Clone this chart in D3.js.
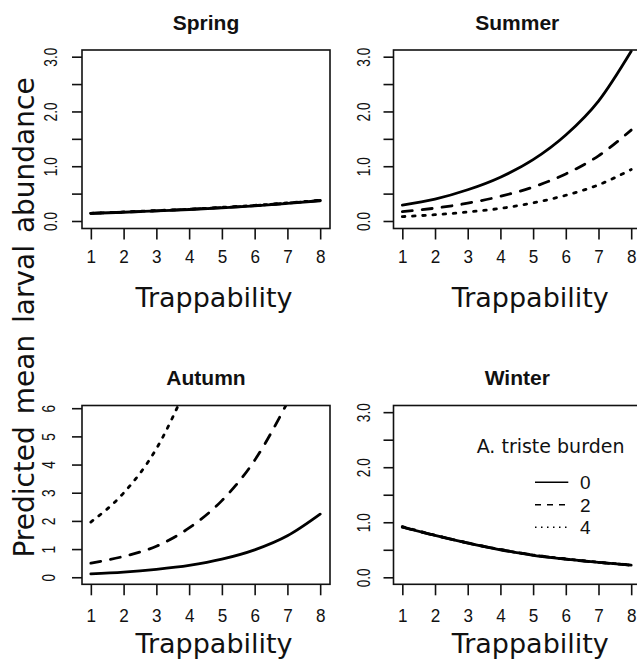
<!DOCTYPE html>
<html>
<head>
<meta charset="utf-8">
<script src="https://cdn.jsdelivr.net/npm/d3@7"></script>
<style>
  body { margin: 0; background: #fff; }
  svg { display: block; }
</style>
</head>
<body>
<div id="chart"></div>
<script>
// Trappability (x) and A. triste burden levels (line types)
const trappability = [1, 2, 3, 4, 5, 6, 7, 8];
const burdenLevels = ["0", "2", "4"];

// Predicted mean larval abundance
const springBurden0 = [0.14, 0.16, 0.185, 0.21, 0.24, 0.275, 0.32, 0.37];
const springBurden2 = [0.14, 0.16, 0.185, 0.215, 0.245, 0.28, 0.325, 0.375];
const springBurden4 = [0.14, 0.165, 0.19, 0.215, 0.25, 0.285, 0.33, 0.38];

const summerBurden0 = [0.29, 0.40, 0.57, 0.80, 1.12, 1.57, 2.19, 3.10];
const summerBurden2 = [0.17, 0.235, 0.325, 0.45, 0.62, 0.86, 1.19, 1.66];
const summerBurden4 = [0.08, 0.115, 0.165, 0.23, 0.33, 0.47, 0.66, 0.94];

const autumnBurden0 = [0.12, 0.18, 0.28, 0.42, 0.64, 0.97, 1.47, 2.24];
const autumnBurden2 = [0.50, 0.74, 1.10, 1.75, 2.72, 4.15, 6.20, null];
const autumnBurden4 = [1.96, 2.99, 4.56, 6.96, null, null, null, null];

const winterBurden0 = [0.91, 0.76, 0.62, 0.50, 0.40, 0.33, 0.27, 0.22];
const winterBurden2 = [0.915, 0.76, 0.625, 0.505, 0.405, 0.33, 0.27, 0.22];
const winterBurden4 = [0.92, 0.765, 0.625, 0.505, 0.405, 0.335, 0.275, 0.225];

// Tick values
const xTickValues = [1, 2, 3, 4, 5, 6, 7, 8];
const yTicksThree = [0, 0.5, 1, 1.5, 2, 2.5, 3];
const yTicksSix = [0, 1, 2, 3, 4, 5, 6];

// Layout
const width = 637;
const height = 659;
const colLeft = [82, 393.5];
const colRight = [330, 641];
const rowTop = [50, 405.5];
const rowBottom = [228.5, 584.3];
const titleBaseline = [30, 385];
const xTickBaseline = [35, 37.6];
const xLabelBaseline = [78.5, 68.2];
const xLabelShift = [8, 13];
const xDomain = [0.73, 8.30];

const dashes = [null, "10,10", "2.6,7.6"];
const axisFont = "'Liberation Sans', Arial, Helvetica, sans-serif";
const labelFont = "'DejaVu Sans', Verdana, sans-serif";

const fmtOne = d => Number.isInteger(d) ? d.toFixed(1) : "";
const fmtInt = d => String(d);

const panels = [
  { title: "Spring", col: 0, row: 0, series: [springBurden0, springBurden2, springBurden4],
    yDomain: [-0.137, 3.122], yTicks: yTicksThree, yFormat: fmtOne, yLabelOffset: 25 },
  { title: "Summer", col: 1, row: 0, series: [summerBurden0, summerBurden2, summerBurden4],
    yDomain: [-0.137, 3.122], yTicks: yTicksThree, yFormat: fmtOne, yLabelOffset: 24 },
  { title: "Autumn", col: 0, row: 1, series: [autumnBurden0, autumnBurden2, autumnBurden4],
    yDomain: [-0.25, 6.096], yTicks: yTicksSix, yFormat: fmtInt, yLabelOffset: 27 },
  { title: "Winter", col: 1, row: 1, series: [winterBurden0, winterBurden2, winterBurden4],
    yDomain: [-0.127, 3.121], yTicks: yTicksThree, yFormat: fmtOne, yLabelOffset: 24 }
];

const svg = d3.select("#chart")
  .append("svg")
  .attr("width", width)
  .attr("height", height);

panels.forEach((p, i) => {
  const x = d3.scaleLinear().domain(xDomain).range([colLeft[p.col], colRight[p.col]]);
  const y = d3.scaleLinear().domain(p.yDomain).range([rowBottom[p.row], rowTop[p.row]]);
  const g = svg.append("g");

  // Clip lines to the plot box
  const clipId = "clip-" + i;
  svg.append("clipPath")
    .attr("id", clipId)
    .append("rect")
    .attr("x", x.range()[0])
    .attr("y", y.range()[1])
    .attr("width", x.range()[1] - x.range()[0])
    .attr("height", y.range()[0] - y.range()[1]);

  const line = d3.line()
    .defined(d => d.v != null)
    .x(d => x(d.t))
    .y(d => y(d.v))
    .curve(d3.curveMonotoneX);

  p.series.forEach((vals, k) => {
    g.append("path")
      .datum(trappability.map((t, j) => ({ t: t, v: vals[j] })))
      .attr("clip-path", `url(#${clipId})`)
      .attr("fill", "none")
      .attr("stroke", "#000")
      .attr("stroke-width", 2.8)
      .attr("stroke-linecap", "round")
      .attr("stroke-linejoin", "round")
      .attr("stroke-dasharray", dashes[k])
      .attr("d", line);
  });

  // Box
  g.append("rect")
    .attr("x", x.range()[0])
    .attr("y", y.range()[1])
    .attr("width", x.range()[1] - x.range()[0])
    .attr("height", y.range()[0] - y.range()[1])
    .attr("fill", "none")
    .attr("stroke", "#111")
    .attr("stroke-width", 1.6);

  // X axis
  g.append("g")
    .attr("transform", `translate(0, ${rowBottom[p.row]})`)
    .call(d3.axisBottom(x).tickValues(xTickValues).tickSize(11).tickSizeOuter(0))
    .call(a => a.select(".domain").remove())
    .call(a => a.selectAll("line").attr("stroke", "#111").attr("stroke-width", 1.6))
    .selectAll("text")
    .attr("y", xTickBaseline[p.row])
    .attr("dy", null)
    .attr("transform", "scale(0.9,1)")
    .style("font-family", axisFont)
    .style("font-size", "19px")
    .style("fill", "#111");

  // Y axis, labels parallel to the axis
  g.append("g")
    .attr("transform", `translate(${colLeft[p.col]}, 0)`)
    .call(d3.axisLeft(y).tickValues(p.yTicks).tickSize(10).tickSizeOuter(0).tickFormat(p.yFormat))
    .call(a => a.select(".domain").remove())
    .call(a => a.selectAll("line").attr("stroke", "#111").attr("stroke-width", 1.6))
    .selectAll("text")
    .attr("x", 0)
    .attr("y", -p.yLabelOffset)
    .attr("dy", null)
    .attr("text-anchor", "middle")
    .attr("transform", "rotate(-90) scale(0.76,1)")
    .style("font-family", axisFont)
    .style("font-size", "18px")
    .style("fill", "#111");

  // Panel title
  g.append("text")
    .attr("x", (colLeft[p.col] + colRight[p.col]) / 2)
    .attr("y", titleBaseline[p.row])
    .attr("text-anchor", "middle")
    .style("font-family", axisFont)
    .style("font-size", "21px")
    .style("font-weight", "bold")
    .style("fill", "#111")
    .text(p.title);

  // X axis label
  g.append("text")
    .attr("x", (colLeft[p.col] + colRight[p.col]) / 2 + xLabelShift[p.col])
    .attr("y", rowBottom[p.row] + xLabelBaseline[p.row])
    .attr("text-anchor", "middle")
    .style("font-family", labelFont)
    .style("font-size", "27px")
    .style("fill", "#111")
    .text("Trappability");
});

// Shared y axis label
svg.append("text")
  .attr("transform", "translate(34, 317.5) rotate(-90)")
  .attr("text-anchor", "middle")
  .style("font-family", labelFont)
  .style("font-size", "28px")
  .style("word-spacing", "3px")
  .style("fill", "#111")
  .text("Predicted mean larval abundance");

// Legend inside the Winter panel
const legend = svg.append("g");
legend.append("text")
  .attr("x", 476.7)
  .attr("y", 453.3)
  .style("font-family", labelFont)
  .style("font-size", "19px")
  .style("fill", "#111")
  .text("A. triste burden");

const legendDashes = [null, "6,6", "1.5,4.5"];
burdenLevels.forEach((lvl, k) => {
  const ly = 482.3 + k * 22.5;
  legend.append("line")
    .attr("x1", 535)
    .attr("x2", 568.3)
    .attr("y1", ly)
    .attr("y2", ly)
    .attr("stroke", "#000")
    .attr("stroke-width", 1.5)
    .attr("stroke-dasharray", legendDashes[k]);
  legend.append("text")
    .attr("x", 580)
    .attr("y", ly + 6.8)
    .style("font-family", axisFont)
    .style("font-size", "19px")
    .style("fill", "#111")
    .text(lvl);
});
</script>
</body>
</html>
